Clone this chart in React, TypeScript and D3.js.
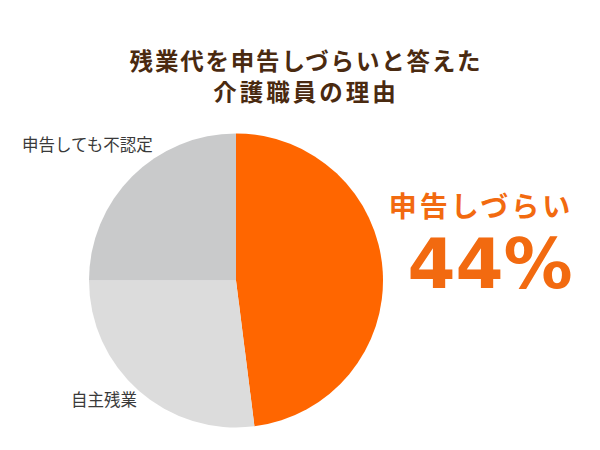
import React from "react";
import * as d3 from "d3";

const categories = ["申告しづらい", "自主残業", "申告しても不認定"];
const values = [48, 27, 25];
const colors = ["#FF6600", "#DCDCDC", "#C9CACB"];
const titleLines = ["残業代を申告しづらいと答えた", "介護職員の理由"];
const highlightLabel = "申告しづらい";
const highlightValue = "44%";

const W = 600;
const H = 450;
const cx = 236;
const cy = 280.5;
const r = 147;

export default function App() {
  const pie = d3
    .pie<number>()
    .sort(null)
    .value((d) => d)
    .startAngle(0)
    .endAngle(2 * Math.PI);
  const arcs = pie(values);
  const arc = d3.arc<d3.PieArcDatum<number>>().innerRadius(0).outerRadius(r);
  const jp = "'Noto Sans CJK JP', 'Noto Sans', sans-serif";

  return (
    <svg
      width={W}
      height={H}
      viewBox={`0 0 ${W} ${H}`}
      style={{ position: "absolute", left: 0, top: 0, background: "#fff" }}
    >
      <rect width={W} height={H} fill="#fff" />
      <g fontFamily={jp} fontWeight={700} fill="#4A2A10" fontSize={23.5} textAnchor="middle">
        <text x={306} y={70} letterSpacing={1.8}>{titleLines[0]}</text>
        <text x={306} y={101} letterSpacing={3}>{titleLines[1]}</text>
      </g>
      <g transform={`translate(${cx},${cy})`}>
        {arcs.map((a, i) => (
          <path key={categories[i]} d={arc(a) || ""} fill={colors[i]} />
        ))}
      </g>
      <g fontFamily={jp} fontSize={16.5} fill="#3a3a3a">
        <text x={22} y={151}>{categories[2]}</text>
        <text x={71} y={406}>{categories[1]}</text>
      </g>
      <text
        x={481}
        y={217}
        textAnchor="middle"
        fontFamily={jp}
        fontWeight={700}
        fontSize={28}
        letterSpacing={3}
        fill="#F26A10"
      >
        {highlightLabel}
      </text>
      <text
        x={490}
        y={288}
        textAnchor="middle"
        fontFamily="'DejaVu Sans', sans-serif"
        fontWeight={700}
        fontSize={69}
        fill="#F26A10"
      >
        {highlightValue}
      </text>
    </svg>
  );
}
